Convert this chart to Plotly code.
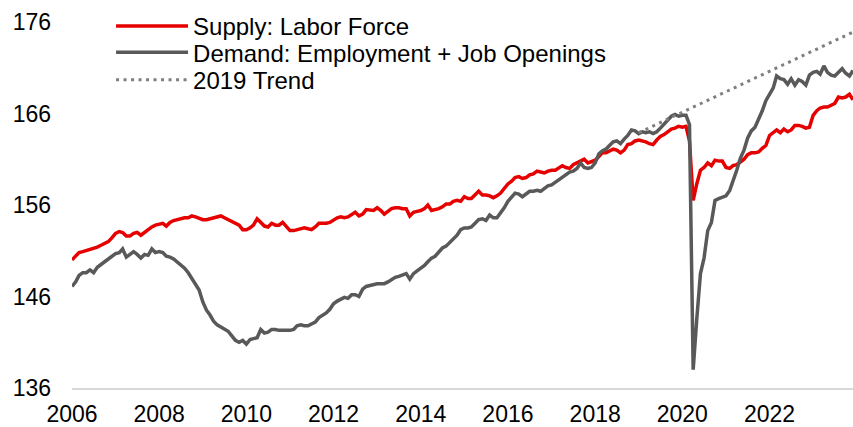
import pandas as pd
import plotly.graph_objects as go

months = pd.date_range("2006-01-01", "2023-12-01", freq="MS")

supply = [
    150.0, 150.5, 150.8, 150.9, 151.0, 151.1, 151.2, 151.4, 151.6, 151.8, 152.0, 152.4,  # 2006
    152.9, 153.1, 153.0, 152.6, 152.6, 152.9, 153.0, 152.7, 153.0, 153.4, 153.6, 153.8,  # 2007
    153.9, 154.0, 153.7, 154.1, 154.3, 154.4, 154.5, 154.6, 154.6, 154.8, 154.7, 154.6,  # 2008
    154.4, 154.4, 154.5, 154.6, 154.7, 154.8, 154.6, 154.4, 154.1, 153.9, 153.8, 153.3,  # 2009
    153.3, 153.5, 153.8, 154.5, 154.1, 153.7, 153.6, 154.0, 153.8, 153.8, 154.1, 153.7,  # 2010
    153.2, 153.2, 153.3, 153.4, 153.5, 153.4, 153.3, 153.6, 154.0, 154.0, 154.0, 154.1,  # 2011
    154.4, 154.6, 154.7, 154.6, 154.7, 155.0, 155.2, 154.8, 155.0, 155.5, 155.4, 155.4,  # 2012
    155.7, 155.4, 155.0, 155.3, 155.6, 155.7, 155.7, 155.6, 155.6, 154.8, 155.2, 155.3,  # 2013
    155.4, 155.6, 156.0, 155.4, 155.5, 155.6, 155.8, 156.1, 156.1, 156.4, 156.5, 156.4,  # 2014
    156.9, 156.7, 156.7, 157.1, 157.5, 157.1, 157.1, 157.0, 156.8, 157.0, 157.3, 157.8,  # 2015
    158.3, 158.6, 159.0, 159.1, 158.9, 159.0, 159.3, 159.4, 159.7, 159.6, 159.5, 159.7,  # 2016
    159.8, 159.8, 160.0, 160.3, 160.1, 160.0, 160.4, 160.6, 160.9, 161.0, 160.6, 160.7,  # 2017
    160.9, 161.3, 161.7, 161.7, 161.9, 162.1, 162.0, 161.7, 162.0, 162.6, 162.7, 163.0,  # 2018
    163.1, 163.0, 162.9, 162.7, 162.6, 163.1, 163.5, 163.7, 164.0, 164.3, 164.4, 164.6,  # 2019
    164.5, 164.6, 163.0, 156.5, 158.3, 159.8, 160.1, 160.6, 160.3, 160.9, 160.8, 160.8,  # 2020
    160.1, 160.0, 160.3, 160.4, 160.7, 161.0, 161.5, 161.7, 161.7, 161.8, 162.2, 162.5,  # 2021
    163.6, 163.9, 164.2, 163.9, 164.3, 164.0, 164.2, 164.7, 164.7, 164.6, 164.4, 164.5,  # 2022
    165.8, 166.3, 166.6, 166.7, 166.7, 166.9, 167.1, 167.8, 167.7, 167.8, 168.1, 167.5,  # 2023
]

demand = [
    147.1, 147.6, 148.3, 148.6, 148.6, 148.9, 148.6, 149.2, 149.5, 149.8, 150.2, 150.5,  # 2006
    150.7, 150.8, 151.2, 150.3, 150.6, 150.9, 150.6, 150.2, 150.6, 150.5, 151.2, 150.8,  # 2007
    150.9, 150.8, 150.4, 150.3, 150.1, 149.8, 149.5, 149.1, 148.6, 148.0, 147.4, 146.7,  # 2008
    145.4, 144.5, 144.0, 143.3, 142.9, 142.7, 142.5, 142.2, 141.7, 141.2, 141.0, 141.2,  # 2009
    140.8, 141.3, 141.4, 141.5, 142.4, 142.0, 142.1, 142.4, 142.4, 142.3, 142.3, 142.3,  # 2010
    142.3, 142.4, 142.8, 142.9, 142.8, 142.8, 143.0, 143.2, 143.7, 143.9, 144.2, 144.6,  # 2011
    145.2, 145.5, 145.7, 145.9, 145.8, 146.2, 146.2, 146.0, 146.8, 147.1, 147.2, 147.3,  # 2012
    147.4, 147.4, 147.4, 147.6, 147.9, 148.1, 148.2, 148.4, 148.5, 147.9, 148.5, 148.8,  # 2013
    149.1, 149.4, 149.8, 150.2, 150.4, 150.8, 151.3, 151.5, 151.9, 152.3, 152.7, 153.3,  # 2014
    153.5, 153.5, 153.6, 154.0, 154.4, 154.5, 154.3, 154.9, 154.6, 154.6, 155.1, 155.7,  # 2015
    156.4, 156.9, 157.3, 157.2, 156.9, 157.2, 157.5, 157.5, 157.6, 157.5, 157.8, 158.1,  # 2016
    158.2, 158.5, 158.8, 159.0, 159.3, 159.6, 159.7, 160.0, 160.6, 160.1, 160.0, 160.1,  # 2017
    160.6, 161.6, 161.9, 162.1, 162.5, 162.9, 163.0, 162.7, 163.2, 163.6, 164.2, 164.1,  # 2018
    163.8, 164.0, 163.9, 164.0, 163.8, 164.0, 164.4, 164.8, 165.3, 165.7, 165.9, 165.7,  # 2019
    165.8, 165.8, 164.8, 138.0, 143.5, 148.5, 150.2, 153.2, 154.1, 156.5, 156.7, 156.8,  # 2020
    157.0, 157.6, 158.6, 159.8, 161.1, 162.0, 163.3, 164.1, 164.5, 165.3, 166.3, 167.4,  # 2021
    168.2, 168.8, 170.1, 169.8, 169.7, 169.2, 169.8, 169.1, 169.7, 169.5, 169.1, 170.2,  # 2022
    170.5, 170.6, 170.3, 171.2, 170.5, 170.2, 170.1, 170.5, 170.9, 170.4, 170.1, 170.7,  # 2023
]

trend_dates = ["2019-01-01", "2023-12-01"]
trend_values = [163.9, 174.9]

y_ticks = [136, 146, 156, 166, 176]

FONT = "Liberation Sans, Arial, sans-serif"
LEG_FONT = 24

fig = go.Figure()
fig.add_trace(go.Scatter(
    x=months, y=supply, mode="lines", name="Supply: Labor Force",
    line=dict(color="#E60000", width=3.5), legend="legend",
))
fig.add_trace(go.Scatter(
    x=months, y=demand, mode="lines", name="Demand: Employment + Job Openings",
    line=dict(color="#595959", width=3.5), legend="legend2",
))
fig.add_trace(go.Scatter(
    x=trend_dates, y=trend_values, mode="lines", name="2019 Trend",
    line=dict(color="#7F7F7F", width=3, dash="3px,4.5px"), legend="legend3",
))

def leg(yval):
    return dict(
        x=0.05, y=yval, xanchor="left", yanchor="middle",
        bgcolor="rgba(0,0,0,0)", font=dict(size=LEG_FONT, family=FONT, color="#000000"),
        itemwidth=72,
    )

fig.update_layout(
    width=853, height=427,
    margin=dict(l=72, r=0, t=22, b=39, autoexpand=False),
    paper_bgcolor="white", plot_bgcolor="white",
    font=dict(family=FONT, size=23, color="#000000"),
    showlegend=True,
    legend=leg(0.988),
    legend2=leg(0.916),
    legend3=leg(0.841),
    xaxis=dict(
        type="date",
        range=["2006-01-01", "2023-12-01"],
        tick0="2006-01-01", dtick="M24", tickformat="%Y",
        showgrid=False, zeroline=False, automargin=False,
        showline=True, linecolor="#D9D9D9", linewidth=2,
        ticks="", ticklabelstandoff=4,
        tickfont=dict(size=23),
    ),
    yaxis=dict(
        range=[136, 176],
        tickvals=y_ticks, automargin=False,
        showgrid=False, zeroline=False, showline=False,
        ticks="", ticklabelstandoff=20,
        tickfont=dict(size=23),
    ),
)

fig.write_html(
    "out.html",
    config={"displayModeBar": False},
    post_script="document.body.style.margin='0px';document.body.style.overflow='hidden';",
)
